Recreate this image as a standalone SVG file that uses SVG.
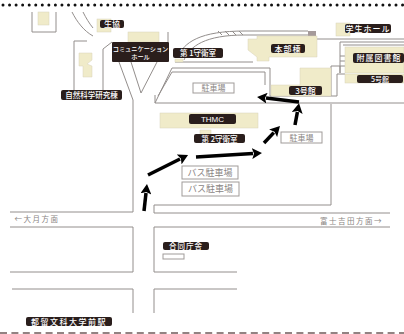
<svg xmlns="http://www.w3.org/2000/svg" width="404" height="334" viewBox="0 0 404 334">
<style>
text{font-family:"Noto Sans CJK JP","Liberation Sans",sans-serif;font-size:8px;text-anchor:middle}
.l{fill:#fff;font-weight:500}
.d{fill:#8a8583}
.r{fill:none;stroke:#938e8c;stroke-width:1}
.c{fill:#f0ebc9;stroke:#d8d3ba;stroke-width:.5}
.b{fill:#2a1e1c}
.w{fill:#fff;stroke:#a09b99;stroke-width:1}
.a{stroke:#000;stroke-width:3.500;fill:none;marker-end:url(#h)}
</style>
<defs><marker id="h" markerUnits="userSpaceOnUse" markerWidth="11" markerHeight="11" refX="1" refY="5.500" orient="auto"><path d="M0,0 L10,5.500 L0,11 L2,5.500 Z" fill="#000"/></marker></defs>
<rect width="404" height="334" fill="#fff"/>
<line x1="3" y1="5" x2="404" y2="5" stroke="#111" stroke-width="3" stroke-linecap="round" stroke-dasharray="0 6.55"/>
<line x1="0" y1="333" x2="404" y2="333" stroke="#6f5a5a" stroke-width="1.600" stroke-dasharray="7 4.400"/>
<g id="roads">
<path class="r" d="M32,12V32H56V12M72,12C77,22 84,31 93,36M83,12C86,18 89,23 93,28M168,32V42"/>
<path class="r" d="M87,41H74V90M112,42L103,49V90M131,62L141,93L157,62M119,62L133,100V212H10"/>
<path class="r" d="M177,58C184,42 200,31 245,31H308M184,60C190,46 205,35 245,35H308M175,62H253"/>
<path class="r" d="M218,31L222,35M225,31L229,35M232,31L236,35M239,31L243,35"/>
<path class="r" d="M316,39H404M155,103L172,68H270V96H337V74H345M158,96L172,72H265V85M155,95V103H404"/>
<path class="r" d="M331,96V66H340V73M331,104V205H154V213H390M154,227H390M10,227H133V272H10M154,227V272H237M12,289H133V313M154,313V289H237"/>
<rect x="308" y="31" width="8" height="5" fill="#a59a9a"/>
<path class="r" d="M340,42H404M340,42V73M343,45H404M340,56H345M340,61H345M340,66H345"/>
</g>
<g id="n-bldg1"><rect class="c" x="38" y="12" width="11" height="13"/></g>
<g id="n-seikyo"><rect class="c" x="97" y="19" width="14" height="13"/><rect class="b" x="100" y="20" width="24" height="8" rx="2"/><text class="l" x="112" y="27">生協</text></g>
<g id="n-comm"><rect class="c" x="128" y="32" width="31" height="10"/><rect class="b" x="112" y="42" width="57" height="20" rx="1"/><text class="l" x="140.500" y="51" style="font-size:6.200px">コミュニケーション</text><text class="l" x="140.500" y="59" style="font-size:6.200px">ホール</text></g>
<g id="n-science"><path class="c" d="M79,53H92V60L87,64L92,66V77H83V66H79Z"/><rect class="b" x="61" y="90" width="61" height="10" rx="2"/><text class="l" x="91.500" y="98" style="font-size:7.500px">自然科学研究棟</text></g>
<g id="n-guard1"><rect class="c" x="175" y="59" width="8" height="3"/><rect class="b" x="173" y="48" width="50" height="10" rx="2"/><text class="l" x="198" y="56" style="font-size:7.500px">第 1守衛室</text></g>
<g id="n-honbu"><path class="c" d="M248,39H257V36H317V57H269V61H257V57L248,50Z"/><rect class="b" x="271" y="44" width="34" height="9" rx="2"/><text class="l" x="288" y="52" style="letter-spacing:1px">本部棟</text></g>
<g id="n-gakusei"><rect class="c" x="336" y="23" width="14" height="13"/><rect class="b" x="345" y="24" width="46" height="9" rx="2"/><text class="l" x="368" y="32" style="letter-spacing:1px">学生ホール</text></g>
<g id="n-library"><rect class="c" x="345" y="47" width="59" height="26"/><rect class="b" x="353" y="53" width="51" height="10" rx="2"/><text class="l" x="379" y="61" style="letter-spacing:1px">附属図書館</text></g>
<g id="n-5"><rect class="c" x="345" y="74" width="59" height="9"/><rect class="b" x="357" y="75" width="46" height="8" rx="2"/><text class="l" x="380" y="82" style="font-size:7px">5号館</text></g>
<g id="n-3"><path class="c" d="M300,68H331V96H271V85H300Z"/><rect class="b" x="289" y="86" width="33" height="9" rx="2"/><text class="l" x="305.500" y="94">3号館</text></g>
<g id="n-park1"><rect class="w" x="193" y="83" width="41" height="10"/><text class="d" x="213.500" y="91">駐車場</text></g>
<g id="n-thmc"><rect class="c" x="160" y="113" width="98" height="15"/><rect class="b" x="189" y="114" width="47" height="10" rx="2"/><text class="l" x="212.500" y="122" style="font-family:'Liberation Sans',sans-serif">THMC</text></g>
<g id="n-guard2"><rect class="c" x="200" y="130" width="11" height="5"/><rect class="b" x="194" y="134" width="51" height="9" rx="2"/><text class="l" x="219.500" y="142" style="font-size:7.500px">第 2守衛室</text></g>
<g id="n-park2"><rect class="w" x="281" y="132" width="41" height="11"/><text class="d" x="301.500" y="141">駐車場</text></g>
<g id="n-bus1"><rect class="w" x="182" y="166" width="56" height="13"/><text class="d" x="210" y="176" style="font-size:9px">バス駐車場</text></g>
<g id="n-bus2"><rect class="w" x="182" y="182" width="57" height="14"/><text class="d" x="210.500" y="192" style="font-size:9px">バス駐車場</text></g>
<g id="n-godo"><rect class="b" x="163" y="242" width="46" height="8" rx="2"/><text class="l" x="186" y="249" style="font-size:7.500px;letter-spacing:1px">合同庁舎</text><rect class="w" x="163" y="254" width="21" height="5"/></g>
<g id="n-station"><rect class="b" x="26" y="317" width="86" height="9" rx="2"/><text class="l" x="69" y="325" style="letter-spacing:1.500px">都留文科大学前駅</text></g>
<g id="labels"><text class="d" x="37" y="222" style="font-size:7.500px;letter-spacing:1.500px">←大月方面</text><text class="d" x="351.500" y="224" style="font-size:7.500px;letter-spacing:1.500px">富士吉田方面→</text></g>
<g id="connectors">
<path class="a" d="M144,211L146,193"/>
<path class="a" d="M148,175L180,159"/>
<path class="a" d="M196,157L253,153.500"/>
<path class="a" d="M264,143L273.800,132.600"/>
<path class="a" d="M295,125L297.400,112"/>
<path class="a" d="M299,102L266,98"/>
</g>
</svg>
